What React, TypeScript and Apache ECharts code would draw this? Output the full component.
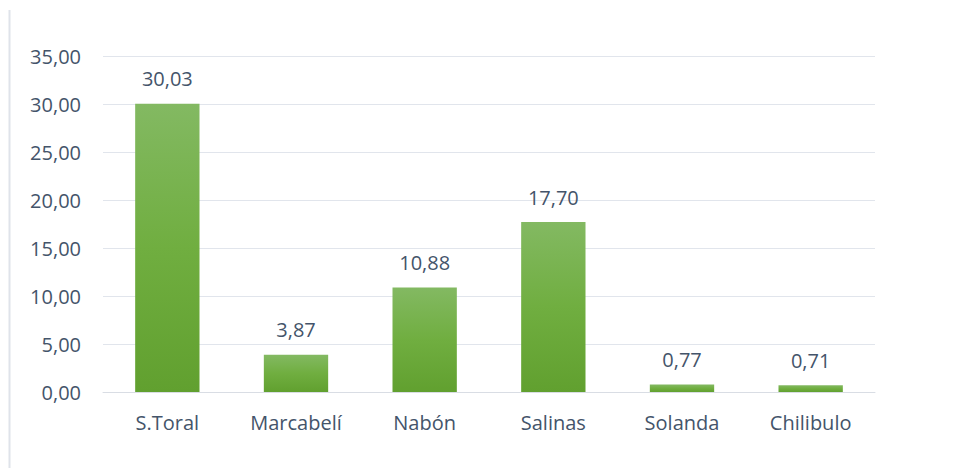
import React, { useEffect, useRef } from "react";
import * as echarts from "echarts";

const categories = ["S.Toral", "Marcabelí", "Nabón", "Salinas", "Solanda", "Chilibulo"];
const values = [30.03, 3.87, 10.88, 17.7, 0.77, 0.71];
const yMin = 0;
const yMax = 35;
const yStep = 5;

const fmt = (v: number) => v.toFixed(2).replace(".", ",");

export default function App() {
  const ref = useRef<HTMLDivElement>(null);
  useEffect(() => {
    if (!ref.current) return;
    const chart = echarts.init(ref.current, null, { renderer: "svg" });
    const textColor = "#44546A";
    const fs = 20;
    chart.setOption({
      animation: false,
      backgroundColor: "#ffffff",
      textStyle: { fontFamily: "Open Sans" },
      graphic: [
        {
          type: "line",
          shape: { x1: 9.5, y1: 10, x2: 9.5, y2: 468 },
          style: { stroke: "#dfe3ea", lineWidth: 2 },
        },
      ],
      grid: { left: 103, right: 82, top: 56, bottom: 76, containLabel: false },
      xAxis: {
        type: "category",
        data: categories,
        axisLine: { show: true, lineStyle: { color: "#d9dde4", width: 1 } },
        axisTick: { show: false },
        axisLabel: { color: textColor, fontSize: fs, margin: 20, fontFamily: "Open Sans" },
      },
      yAxis: {
        type: "value",
        min: yMin,
        max: yMax,
        interval: yStep,
        axisLine: { show: false },
        axisTick: { show: false },
        splitLine: { lineStyle: { color: "#e1e5ec", width: 1 } },
        axisLabel: {
          color: textColor,
          fontSize: fs,
          margin: 22,
          fontFamily: "Open Sans",
          formatter: (v: number) => fmt(v),
        },
      },
      series: [
        {
          type: "bar",
          data: values,
          barWidth: "50%",
          itemStyle: {
            color: new echarts.graphic.LinearGradient(0, 0, 0, 1, [
              { offset: 0, color: "#83b962" },
              { offset: 0.5, color: "#70ae40" },
              { offset: 1, color: "#61a02f" },
            ]),
          },
          label: {
            show: true,
            position: "top",
            distance: 15,
            color: textColor,
            fontSize: fs,
            fontFamily: "Open Sans",
            formatter: (p: any) => fmt(p.value),
          },
        },
      ],
    });
    return () => chart.dispose();
  }, []);
  return <div ref={ref} style={{ width: 957, height: 468, position: "absolute", left: 0, top: 0 }} />;
}
